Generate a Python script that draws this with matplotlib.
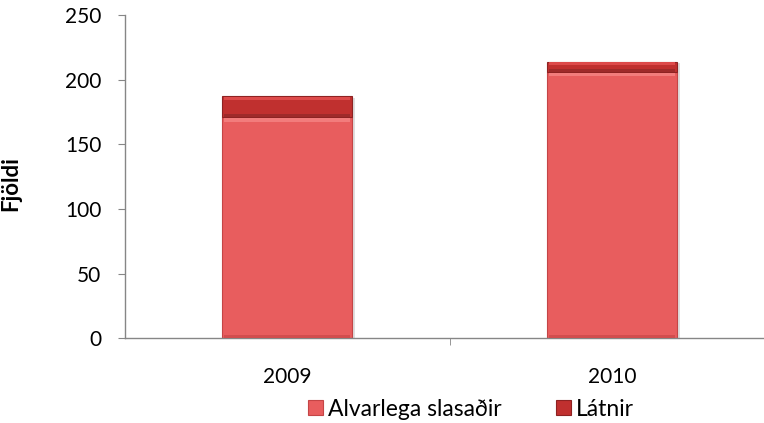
import matplotlib
matplotlib.use("Agg")
import matplotlib.pyplot as plt
from matplotlib.ticker import FixedLocator
import numpy as np

years = ["2009", "2010"]
alvarlega = [171, 206]
latnir = [16, 8]
series_names = ["Alvarlega slasaðir", "Látnir"]
yticks = [0, 50, 100, 150, 200, 250]

plt.rcParams['font.family'] = ['Lato', 'DejaVu Sans']

fig = plt.figure(figsize=(7.64, 4.23), dpi=100)
W, H = 764, 423
ax = fig.add_axes([125 / W, (H - 338.3) / H, (764 - 125) / W, (338.3 - 15) / H])

x = np.arange(len(years))
width = 0.40
c1 = "#E85D5E"
c2 = "#C0302F"
edge1 = "#C44546"
edge2 = "#8E2222"
a = np.array(alvarlega)
l = np.array(latnir)

# subtle shadow
ax.bar(x + 0.010, a + l, width, bottom=-1.5, color="#000000", alpha=0.13, zorder=1)
b1 = ax.bar(x, a, width, color=c1, edgecolor=edge1, linewidth=0.8,
            label=series_names[0], zorder=2)
b2 = ax.bar(x, l, width, bottom=a, color=c2, edgecolor=edge2,
            linewidth=0.8, label=series_names[1], zorder=2)
# bevel-like strips
ax.bar(x, [3] * len(x), width * 0.97, bottom=a - 3.5, color="#F27C7C", linewidth=0, zorder=3)
ax.bar(x, [2.5] * len(x), width * 0.97, bottom=[0.4] * len(x), color="#D24D4E", linewidth=0, zorder=3)
ax.bar(x, [2.0] * len(x), width * 0.97, bottom=a + l - 2.6, color="#DD4A4A", linewidth=0, zorder=3)
ax.bar(x, [1.8] * len(x), width * 0.97, bottom=a + 0.3, color="#9E2A2A", linewidth=0, zorder=3)

ax.set_xlim(-0.4985, 1.4677)
ax.set_ylim(0, 250)
ax.set_yticks(yticks)
ax.set_xticks(x)
ax.set_xticklabels(years)
ax.xaxis.set_minor_locator(FixedLocator([-0.5, 0.5]))
ax.tick_params(axis='x', which='major', length=0, pad=21, labelsize=15)
ax.tick_params(axis='x', which='minor', length=5, color="#868686")
ax.tick_params(axis='y', length=5, color="#868686", labelsize=15, pad=12)

for s in ["top", "right"]:
    ax.spines[s].set_visible(False)
for s in ["left", "bottom"]:
    ax.spines[s].set_color("#868686")
    ax.spines[s].set_linewidth(1.0)

ax.set_ylabel("Fjöldi", fontsize=16, fontweight="bold")
ax.yaxis.set_label_coords((21 - 125) / (764 - 125), 0.48)

leg = fig.legend(handles=[b1, b2], labels=series_names, loc="center",
                 bbox_to_anchor=(471 / W, (H - 409) / H), ncol=2, frameon=False,
                 fontsize=16.5, handlelength=0.65, handleheight=0.65,
                 handletextpad=0.2, columnspacing=2.4)

fig.savefig("out.png", dpi=100)
